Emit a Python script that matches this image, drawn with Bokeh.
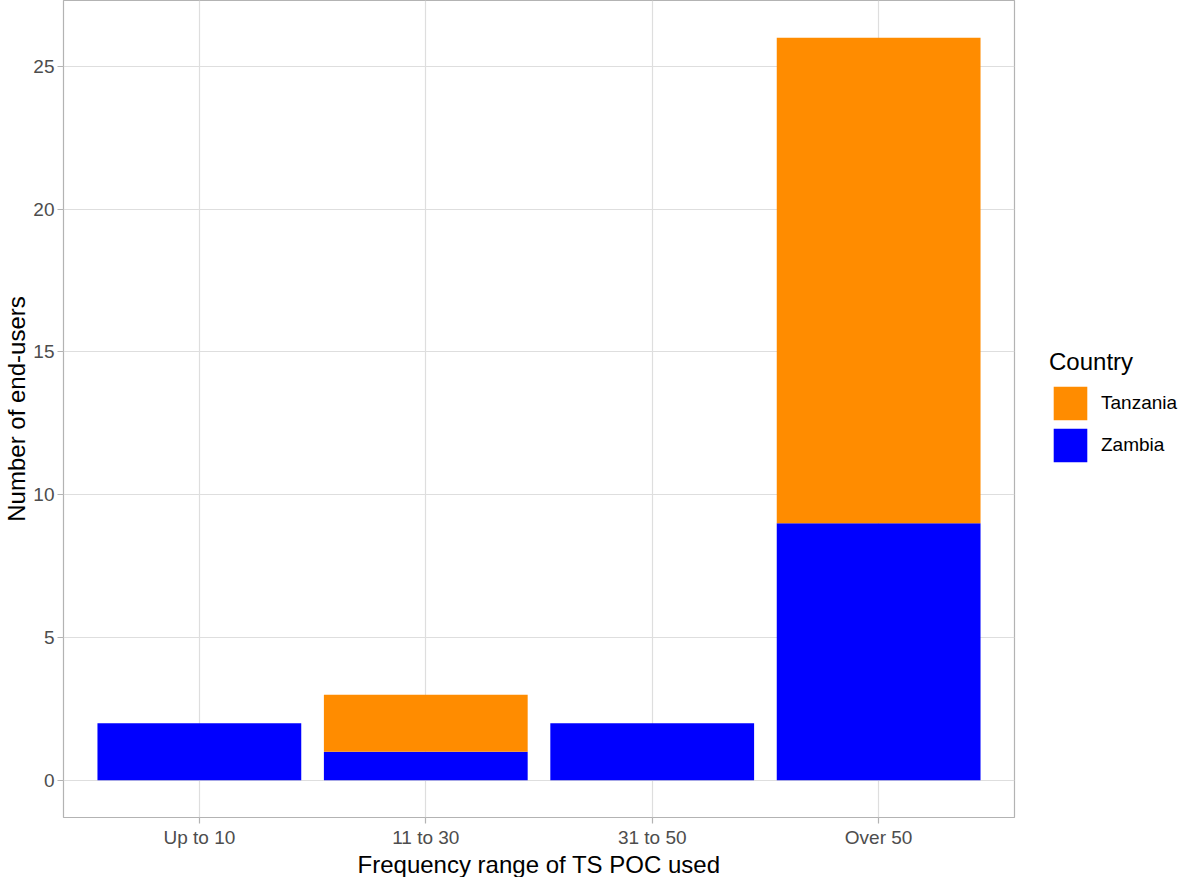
from bokeh.plotting import figure
from bokeh.models import ColumnDataSource, FactorRange, Legend, LegendItem
from bokeh.embed import file_html
from bokeh.resources import INLINE

categories = ["Up to 10", "11 to 30", "31 to 50", "Over 50"]
zambia = [2, 1, 2, 9]
tanzania = [0, 2, 0, 17]
y_ticks = [0, 5, 10, 15, 20, 25]

FONT = "Liberation Sans"

source = ColumnDataSource(dict(cat=categories, Zambia=zambia, Tanzania=tanzania))

x_range = FactorRange(factors=categories, range_padding=0.1, range_padding_units="absolute")
total_max = max(z + t for z, t in zip(zambia, tanzania))
pad = total_max * 0.05

p = figure(x_range=x_range, y_range=(-pad, total_max + pad),
           frame_width=951, frame_height=817, output_backend="svg", toolbar_location=None,
           min_border_left=62, min_border_right=168, min_border_top=0, min_border_bottom=60,
           background_fill_color="white", border_fill_color="white")

renderers = p.vbar_stack(["Zambia", "Tanzania"], x="cat", width=0.9,
                         color=["#0000FF", "#FF8C00"], line_color=None, source=source)

p.outline_line_color = "#B3B3B3"
p.outline_line_width = 1.2

for g in (p.xgrid, p.ygrid):
    g.grid_line_color = "#DEDEDE"
    g.grid_line_width = 1.2
p.ygrid.ticker = y_ticks
p.yaxis.ticker = y_ticks

for ax in (p.xaxis, p.yaxis):
    ax.axis_line_color = None
    ax.major_tick_line_color = "#B3B3B3"
    ax.major_tick_line_width = 1.2
    ax.major_tick_out = 6
    ax.major_tick_in = 0
    ax.minor_tick_line_color = None
    ax.major_label_text_font = FONT
    ax.major_label_text_font_size = "19px"
    ax.major_label_text_color = "#4D4D4D"
    ax.axis_label_text_font = FONT
    ax.axis_label_text_font_size = "24px"
    ax.axis_label_text_font_style = "normal"
    ax.axis_label_text_color = "black"
    ax.major_label_standoff = 3
    ax.axis_label_standoff = 0

p.xaxis.axis_label = "Frequency range of TS POC used"
p.yaxis.axis_label = "Number of end-users"

legend = Legend(items=[LegendItem(label="Tanzania", renderers=[renderers[1]]),
                       LegendItem(label="Zambia", renderers=[renderers[0]])],
                location=(35, 351), title="Country",
                title_text_font=FONT, title_text_font_size="24px", title_text_font_style="normal",
                title_text_color="black", title_standoff=6,
                label_text_font=FONT, label_text_font_size="19px", label_text_color="black",
                glyph_width=42, glyph_height=42, label_height=42, spacing=-4, label_standoff=10,
                padding=0, margin=0, border_line_color=None, background_fill_alpha=0)
p.add_layout(legend, "right")

open("out.html", "w").write(file_html(p, INLINE))
